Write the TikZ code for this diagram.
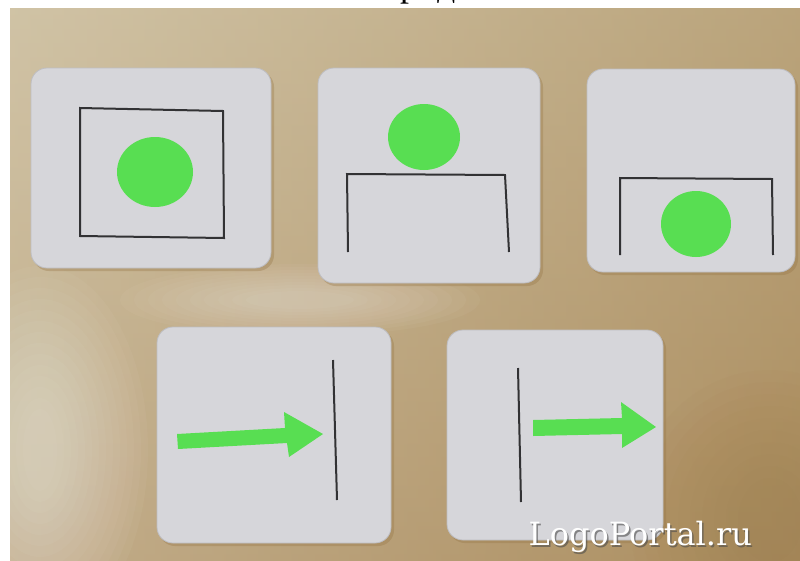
\documentclass[tikz,border=0pt]{standalone}
\usepackage{fontspec}
\newfontfamily\wmfont{DejaVu Serif}
\newfontfamily\topfont{Liberation Serif}
\definecolor{woodA}{RGB}{198,182,146}
\definecolor{woodB}{RGB}{172,142,96}
\definecolor{woodC}{RGB}{150,118,70}
\definecolor{cardgrey}{RGB}{214,214,218}
\definecolor{cardedge}{RGB}{190,190,194}
\definecolor{dotgreen}{RGB}{88,222,82}
\definecolor{inkgrey}{RGB}{50,50,52}
\tikzset{
  card/.style={fill=cardgrey, draw=cardedge, line width=0.8pt, rounded corners=16pt},
  cardshadow/.style={fill=woodC, opacity=0.35, rounded corners=16pt},
  ink/.style={draw=inkgrey, line width=2pt, line join=miter},
  dot/.style={fill=dotgreen},
  greenarrow/.style={fill=dotgreen},
  glare/.style={fill=white, opacity=0.035}
}
\begin{document}
\begin{tikzpicture}[x=1pt,y=-1pt]
\useasboundingbox (0,0) rectangle (800,560);
% page background
\fill[white] (0,0) rectangle (800,560);
% wooden table
\shade[top color=woodA, bottom color=woodB] (10,8) rectangle (800,560);
\shade[left color=woodA!60!white, right color=woodB, opacity=0.45] (10,8) rectangle (800,560);
\begin{scope}
\clip (10,8) rectangle (800,560);
\foreach \r in {1,...,14}{
  \fill[glare] (40,450) ellipse ({10+7*\r} and {30+11*\r});
}
\foreach \r in {1,...,10}{
  \fill[glare] (300,300) ellipse ({40+14*\r} and {6+3*\r});
}
\foreach \r in {1,...,10}{
  \fill[fill=woodC, opacity=0.035] (770,520) ellipse ({20+12*\r} and {30+12*\r});
}
\end{scope}
% cut-off heading
\begin{scope}
\clip (0,0) rectangle (800,8);
\node[anchor=base west, inner sep=0pt, font=\topfont\fontsize{36}{40}\selectfont] (hdA) at (400,-3.5) {р};
\node[anchor=base west, inner sep=0pt, font=\topfont\fontsize{36}{40}\selectfont] (hdB) at (437,-3.5) {д};
\end{scope}
% card shadows
\fill[cardshadow] (33,71) rectangle (274,271);
\fill[cardshadow] (320,71) rectangle (543,286);
\fill[cardshadow] (589,72) rectangle (798,275);
\fill[cardshadow] (159,330) rectangle (394,546);
\fill[cardshadow] (449,333) rectangle (666,543);
% card 1: dot inside square
\draw[card] (31,68) rectangle (271,268);
\draw[ink] (80,108) -- (223,111) -- (224,238) -- (80,236) -- cycle;
\fill[dot] (155,172) ellipse (38 and 35);
% card 2: dot above the bracket
\draw[card] (318,68) rectangle (540,283);
\draw[ink] (348,252) -- (347,174) -- (505,175) -- (509,252);
\fill[dot] (424,137) ellipse (36 and 33);
% card 3: dot under the bracket
\draw[card] (587,69) rectangle (795,272);
\draw[ink] (620,255) -- (620,178) -- (772,179) -- (773,255);
\fill[dot] (696,224) ellipse (35 and 33);
% card 4: arrow to the line
\draw[card] (157,327) rectangle (391,543);
\draw[ink] (333,360) -- (337,500);
\fill[greenarrow] (177,434) -- (285,428) -- (284,412) -- (323,434) -- (289,457) -- (287,443) -- (178,449) -- cycle;
% card 5: arrow away from the line
\draw[card] (447,330) rectangle (663,540);
\draw[ink] (518,368) -- (521,502);
\fill[greenarrow] (533,420) -- (622,418) -- (621,402) -- (656,427) -- (622,448) -- (622,434) -- (533,436) -- cycle;
% watermark
\node[anchor=base west, inner sep=0pt, text=black!70, opacity=0.6, font=\wmfont\fontsize{32}{36}\selectfont] (wmshadow) at (530,547) {LogoPortal.ru};
\node[anchor=base west, inner sep=0pt, text=white, font=\wmfont\fontsize{32}{36}\selectfont] (wm) at (528.5,545.5) {LogoPortal.ru};
\end{tikzpicture}
\end{document}
